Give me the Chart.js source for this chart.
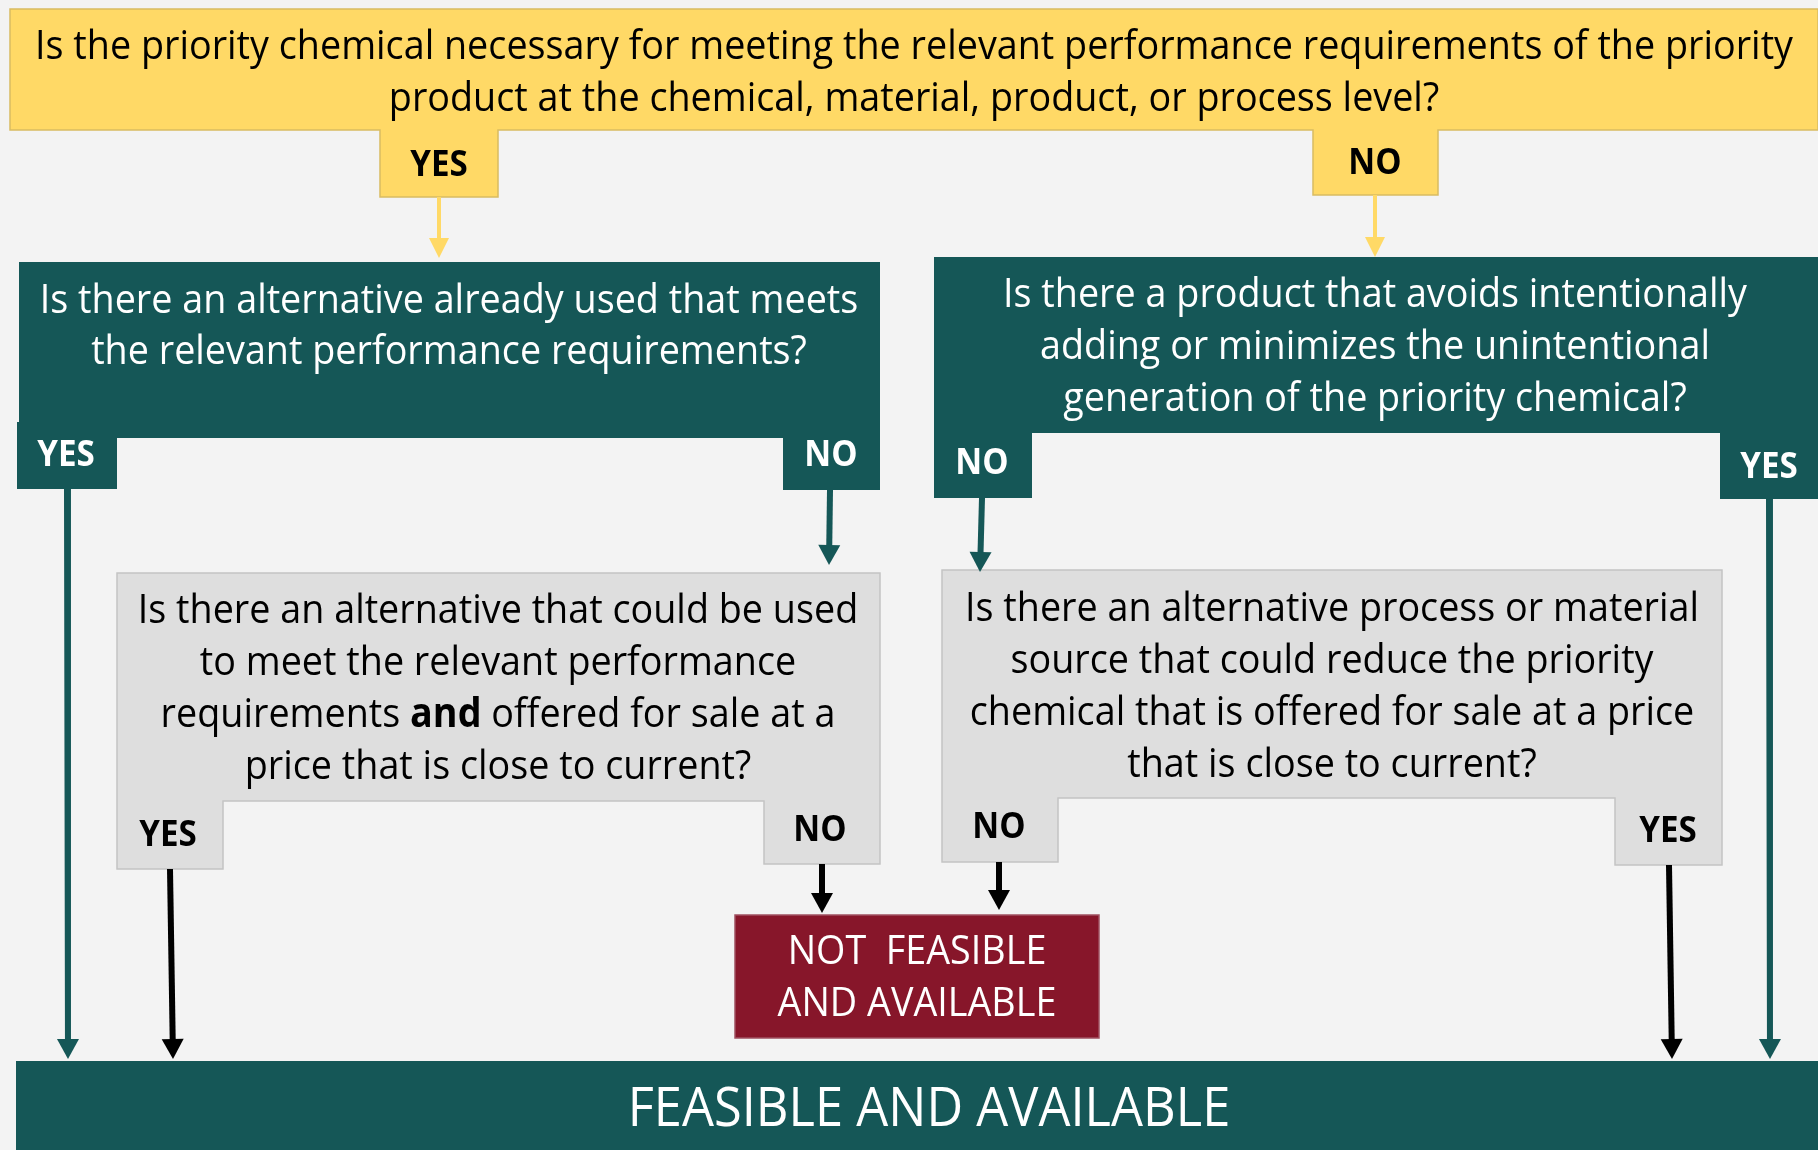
<!DOCTYPE html>
<html>
<head>
<meta charset="utf-8">
<script src="https://cdn.jsdelivr.net/npm/chart.js@4.4.1/dist/chart.umd.min.js"></script>
<style>
    html, body { margin: 0; padding: 0; background: #f3f3f3; }
    #wrap { width: 1818px; height: 1150px; position: relative; }
</style>
</head>
<body>
<div id="wrap"><canvas id="flow"></canvas></div>
<script>
// text of each box, one entry per line (** marks bold words)
const topQuestion = [
    'Is the priority chemical necessary for meeting the relevant performance requirements of the priority',
    'product at the chemical, material, product, or process level?'
]
const usedQuestion = [
    'Is there an alternative already used that meets',
    'the relevant performance requirements?'
]
const productQuestion = [
    'Is there a product that avoids intentionally',
    'adding or minimizes the unintentional',
    'generation of the priority chemical?'
]
const priceQuestion = [
    'Is there an alternative that could be used',
    'to meet the relevant performance',
    'requirements **and** offered for sale at a',
    'price that is close to current?'
]
const processQuestion = [
    'Is there an alternative process or material',
    'source that could reduce the priority',
    'chemical that is offered for sale at a price',
    'that is close to current?'
]
const notFeasible = ['NOT  FEASIBLE', 'AND AVAILABLE']
const feasible = ['FEASIBLE AND AVAILABLE']

// answers on the tabs: top, used, product, price, process
const answerLeft = ['YES', 'YES', 'NO', 'YES', 'NO']
const answerRight = ['NO', 'NO', 'YES', 'NO', 'YES']

// ---- layout and styles (canvas units, y goes down) ----
const FONT = '"Open Sans", "Noto Sans", sans-serif'
const yellow = '#FFD966'
const teal = '#155757'
const grey = '#DEDEDE'
const red = '#87162A'

const shapes = [
    { fill: yellow, stroke: '#D9BC62', pts: [[10,9],[1818,9],[1818,130],[1438,130],[1438,195],[1313,195],[1313,130],[498,130],[498,197],[380,197],[380,130],[10,130]] },
    { fill: teal, pts: [[19,262],[880,262],[880,490],[783,490],[783,438],[117,438],[117,489],[17,489],[17,422],[19,422]] },
    { fill: teal, pts: [[934,257],[1818,257],[1818,499],[1720,499],[1720,433],[1032,433],[1032,498],[934,498]] },
    { fill: grey, stroke: '#C4C4C4', pts: [[117,573],[880,573],[880,864],[764,864],[764,801],[223,801],[223,869],[117,869]] },
    { fill: grey, stroke: '#C4C4C4', pts: [[942,570],[1722,570],[1722,865],[1615,865],[1615,798],[1058,798],[1058,862],[942,862]] },
    { fill: red, stroke: '#A05060', pts: [[735,915],[1099,915],[1099,1038],[735,1038]] },
    { fill: teal, pts: [[16,1061],[1818,1061],[1818,1150],[16,1150]] }
]

const blocks = [
    { lines: topQuestion, x: 914, y: 47, step: 52, size: 41, color: '#000' },
    { lines: usedQuestion, x: 449, y: 301, step: 51, size: 41, color: '#fff' },
    { lines: productQuestion, x: 1375, y: 295, step: 52, size: 41, color: '#fff' },
    { lines: priceQuestion, x: 498, y: 611, step: 52, size: 41, color: '#000' },
    { lines: processQuestion, x: 1332, y: 609, step: 52, size: 41, color: '#000' },
    { lines: notFeasible, x: 917, y: 952, step: 52, size: 41, color: '#fff' },
    { lines: feasible, x: 929, y: 1110, step: 0, size: 55, color: '#fff' }
]

const tabSpots = [
    { l: [439,166], r: [1375,164], color: '#000' },
    { l: [66,456], r: [831,456], color: '#fff' },
    { l: [982,464], r: [1769,468], color: '#fff' },
    { l: [168,836], r: [820,831], color: '#000' },
    { l: [999,828], r: [1668,832], color: '#000' }
]

const arrows = [
    { from: [439,197], to: [439,258], color: yellow, w: 4 },
    { from: [1375,195], to: [1375,257], color: yellow, w: 4 },
    { from: [830,490], to: [829,565], color: teal, w: 6 },
    { from: [982,498], to: [980,572], color: teal, w: 6 },
    { from: [67,489], to: [68,1059], color: teal, w: 6 },
    { from: [1769,499], to: [1770,1059], color: teal, w: 6 },
    { from: [170,869], to: [173,1059], color: '#000', w: 6 },
    { from: [822,864], to: [822,913], color: '#000', w: 6 },
    { from: [999,862], to: [999,910], color: '#000', w: 6 },
    { from: [1669,865], to: [1672,1059], color: '#000', w: 6 }
]
const HEAD = 20

let squeeze = 1

function px(chart, p) {
    return [chart.scales.x.getPixelForValue(p[0]), chart.scales.y.getPixelForValue(p[1])]
}

function drawLine(ctx, text, cx, cy, size, weight) {
    const parts = text.split('**')
    let total = 0
    const widths = parts.map((t, i) => {
        ctx.font = `${i % 2 ? 700 : weight} ${size}px ${FONT}`
        const w = ctx.measureText(t).width
        total += w
        return w
    })
    ctx.save()
    ctx.translate(cx, cy)
    ctx.scale(squeeze, 1)
    let xx = -total / 2
    parts.forEach((t, i) => {
        ctx.font = `${i % 2 ? 700 : weight} ${size}px ${FONT}`
        ctx.fillText(t, xx, 0)
        xx += widths[i]
    })
    ctx.restore()
}

const flowPlugin = {
    id: 'flow',
    beforeDraw(chart) {
        const ctx = chart.ctx
        ctx.save()
        ctx.fillStyle = '#F3F3F3'
        ctx.fillRect(0, 0, chart.width, chart.height)
        ctx.restore()
    },
    beforeDatasetsDraw(chart) {
        const ctx = chart.ctx
        ctx.save()
        for (const s of shapes) {
            ctx.beginPath()
            s.pts.forEach((p, i) => {
                const [a, b] = px(chart, p)
                i ? ctx.lineTo(a, b) : ctx.moveTo(a, b)
            })
            ctx.closePath()
            ctx.fillStyle = s.fill
            ctx.fill()
            if (s.stroke) {
                ctx.strokeStyle = s.stroke
                ctx.lineWidth = 1.5
                ctx.stroke()
            }
        }
        ctx.restore()
    },
    afterDatasetsDraw(chart) {
        const ctx = chart.ctx
        ctx.save()
        // arrow heads
        arrows.forEach(a => {
            const [x0, y0] = px(chart, a.from)
            const [x1, y1] = px(chart, a.to)
            const ang = Math.atan2(y1 - y0, x1 - x0)
            const hw = a.w < 5 ? 10 : 11
            ctx.beginPath()
            ctx.moveTo(x1, y1)
            ctx.lineTo(x1 - HEAD * Math.cos(ang) + hw * Math.sin(ang), y1 - HEAD * Math.sin(ang) - hw * Math.cos(ang))
            ctx.lineTo(x1 - HEAD * Math.cos(ang) - hw * Math.sin(ang), y1 - HEAD * Math.sin(ang) + hw * Math.cos(ang))
            ctx.closePath()
            ctx.fillStyle = a.color
            ctx.fill()
        })

        // condense the sans font so the long top line spans like the original
        ctx.font = `400 41px ${FONT}`
        squeeze = Math.min(1, 1758 / ctx.measureText(topQuestion[0]).width)

        ctx.textBaseline = 'middle'
        ctx.textAlign = 'left'
        blocks.forEach(b => {
            ctx.fillStyle = b.color
            b.lines.forEach((line, i) => {
                const [cx, cy] = px(chart, [b.x, b.y + i * b.step])
                drawLine(ctx, line, cx, cy, b.size, 400)
            })
        })

        tabSpots.forEach((t, i) => {
            ctx.fillStyle = t.color
            let [cx, cy] = px(chart, t.l)
            drawLine(ctx, '**' + answerLeft[i] + '**', cx, cy, 36, 700)
            ;[cx, cy] = px(chart, t.r)
            drawLine(ctx, '**' + answerRight[i] + '**', cx, cy, 36, 700)
        })
        ctx.restore()
    }
}

new Chart(document.getElementById('flow'), {
    type: 'scatter',
    data: {
        datasets: arrows.map(a => {
            const dx = a.to[0] - a.from[0], dy = a.to[1] - a.from[1]
            const len = Math.hypot(dx, dy)
            const k = (len - HEAD + 2) / len
            return {
                type: 'line',
                data: [
                    { x: a.from[0], y: a.from[1] },
                    { x: a.from[0] + dx * k, y: a.from[1] + dy * k }
                ],
                borderColor: a.color,
                borderWidth: a.w,
                pointRadius: 0,
                fill: false
            }
        })
    },
    options: {
        responsive: true,
        maintainAspectRatio: false,
        animation: false,
        layout: { padding: 0 },
        plugins: {
            legend: { display: false },
            tooltip: { enabled: false }
        },
        scales: {
            x: { type: 'linear', min: 0, max: 1818, display: false },
            y: { type: 'linear', min: 0, max: 1150, reverse: true, display: false }
        }
    },
    plugins: [flowPlugin]
})
</script>
</body>
</html>
